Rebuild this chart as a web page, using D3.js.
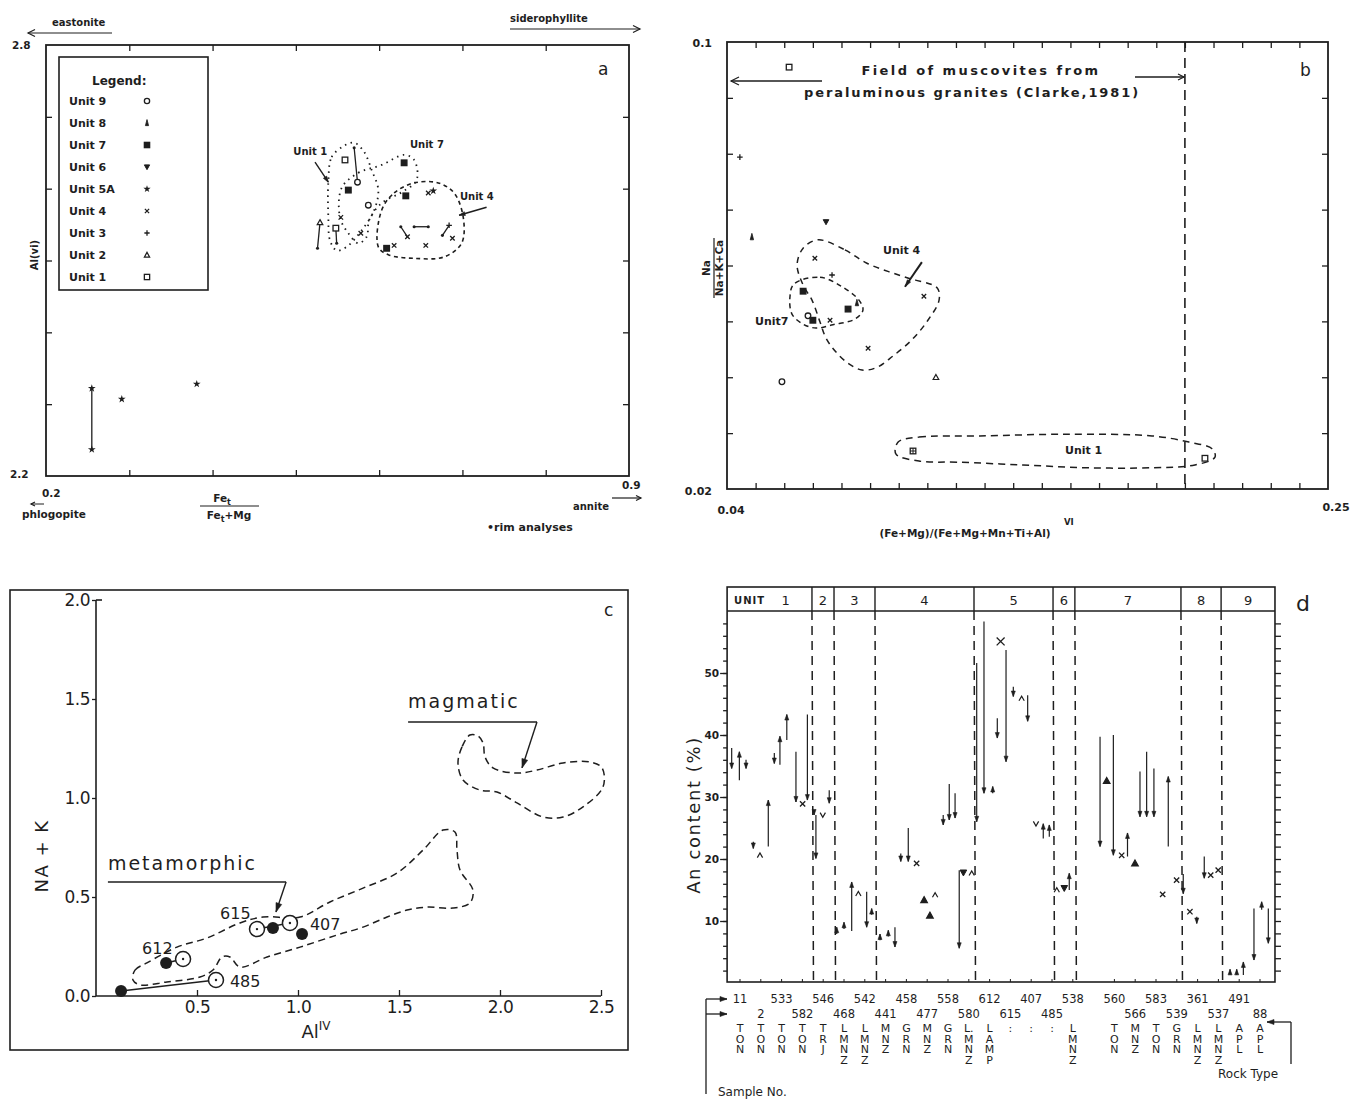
<!DOCTYPE html>
<html>
<head>
<meta charset="utf-8">
<title>Mica, muscovite and plagioclase compositions</title>
<script src="https://cdn.jsdelivr.net/npm/d3@7"></script>
<style>
  body { margin: 0; background: #fff; }
  text { font-family: "DejaVu Sans", "Liberation Sans", sans-serif; fill: #1e1e1e; }
</style>
</head>
<body>
<div id="fig"></div>
<script>
var ink = '#1e1e1e'

// ---- a: Al(vi) vs Fe/(Fe+Mg), biotite ----
var aLegendUnits = ['Unit 9', 'Unit 8', 'Unit 7', 'Unit 6', 'Unit 5A', 'Unit 4', 'Unit 3', 'Unit 2', 'Unit 1']
var aLegendSymbols = ['circle', 'tri8', 'sqFill', 'triDown', 'star', 'x', 'plus', 'triOpen', 'square']
var aXTicks = [0.3, 0.4, 0.5, 0.6, 0.7, 0.8]
var aYTicks = [2.3, 2.4, 2.5, 2.6, 2.7]
// [Fe/(Fe+Mg), Al(vi), symbol]
var aPoints = [
  [0.255, 2.322, 'star'], [0.255, 2.237, 'star'], [0.291, 2.307, 'star'], [0.381, 2.328, 'star'],
  [0.559, 2.640, 'square'], [0.570, 2.657, 'dot'], [0.574, 2.609, 'circle'],
  [0.563, 2.598, 'sqFill'], [0.630, 2.636, 'sqFill'], [0.587, 2.577, 'circle'], [0.632, 2.590, 'sqFill'],
  [0.659, 2.594, 'x'], [0.665, 2.597, 'star'],
  [0.529, 2.553, 'triOpen'], [0.526, 2.517, 'dot'],
  [0.548, 2.545, 'square'], [0.549, 2.524, 'dot'],
  [0.554, 2.560, 'x'], [0.578, 2.538, 'x'],
  [0.609, 2.517, 'sqFill'], [0.618, 2.521, 'x'],
  [0.626, 2.547, 'dot'], [0.634, 2.533, 'x'],
  [0.642, 2.547, 'dot'], [0.659, 2.547, 'dot'],
  [0.684, 2.549, 'plus'], [0.676, 2.535, 'dot'],
  [0.688, 2.531, 'x'], [0.656, 2.521, 'x']
]
// core-rim tie lines [x1, y1, x2, y2]
var aTies = [
  [0.255, 2.322, 0.255, 2.237], [0.570, 2.657, 0.574, 2.609], [0.529, 2.553, 0.526, 2.517],
  [0.548, 2.545, 0.549, 2.524], [0.626, 2.547, 0.634, 2.533], [0.642, 2.547, 0.659, 2.547],
  [0.684, 2.549, 0.676, 2.535]
]
var aUnit1Field = [[0.539, 2.609], [0.543, 2.644], [0.557, 2.659], [0.570, 2.664], [0.582, 2.651], [0.591, 2.626],
  [0.599, 2.598], [0.594, 2.570], [0.579, 2.542], [0.561, 2.519], [0.549, 2.514], [0.541, 2.528], [0.539, 2.560]]
var aUnit7Field = [[0.555, 2.601], [0.575, 2.622], [0.603, 2.633], [0.630, 2.647], [0.642, 2.640], [0.645, 2.612],
  [0.627, 2.595], [0.603, 2.580], [0.588, 2.556], [0.585, 2.533], [0.575, 2.524], [0.563, 2.538], [0.553, 2.560]]
var aUnit4Field = [[0.603, 2.570], [0.618, 2.594], [0.642, 2.608], [0.671, 2.608], [0.690, 2.594], [0.701, 2.560],
  [0.699, 2.524], [0.678, 2.505], [0.642, 2.503], [0.611, 2.508], [0.599, 2.519]]

// ---- b: Na/(Na+K+Ca) vs (Fe+Mg)/(Fe+Mg+Mn+Ti+Al)VI, muscovite ----
var bPoints = [
  [0.0617, 0.0955, 'square'], [0.0445, 0.0794, 'plus'], [0.0487, 0.0651, 'tri8'], [0.0746, 0.0678, 'triDown'],
  [0.0707, 0.0613, 'x'], [0.0767, 0.0583, 'plus'], [0.0666, 0.0554, 'sqFill'], [0.0683, 0.0510, 'circle'],
  [0.0700, 0.0502, 'sqFill'], [0.0760, 0.0502, 'x'], [0.0823, 0.0522, 'sqFill'], [0.0854, 0.0533, 'tri8'],
  [0.1088, 0.0545, 'x'], [0.0893, 0.0452, 'x'], [0.0592, 0.0392, 'circle'], [0.1130, 0.0400, 'triOpen'],
  [0.1050, 0.0268, 'sqCross'], [0.2070, 0.0255, 'square']
]
var bClarkeLimit = 0.2
var bUnit4Field = [[0.0718, 0.0646], [0.0812, 0.0628], [0.0889, 0.0604], [0.1029, 0.0578], [0.1134, 0.0560],
  [0.1141, 0.0538], [0.1102, 0.0502], [0.1046, 0.0467], [0.0980, 0.0438], [0.0921, 0.0417], [0.0872, 0.0413],
  [0.0826, 0.0424], [0.0781, 0.0445], [0.0746, 0.0470], [0.0725, 0.0499], [0.0697, 0.0538], [0.0666, 0.0565],
  [0.0645, 0.0601], [0.0666, 0.0631]]
var bUnit7Field = [[0.0634, 0.0567], [0.0725, 0.0579], [0.0802, 0.0562], [0.0861, 0.0538], [0.0875, 0.0520],
  [0.0847, 0.0504], [0.0770, 0.0494], [0.0711, 0.0488], [0.0666, 0.0495], [0.0627, 0.0513], [0.0620, 0.0544]]
var bUnit1Field = [[0.0998, 0.0284], [0.1071, 0.0293], [0.1284, 0.0295], [0.1584, 0.0298], [0.1885, 0.0295],
  [0.2014, 0.0284], [0.2095, 0.0272], [0.2105, 0.0257], [0.2035, 0.0243], [0.1885, 0.0238], [0.1658, 0.0238],
  [0.1434, 0.0243], [0.1207, 0.0248], [0.1071, 0.0250], [0.0990, 0.0263]]

// ---- c: Na+K vs Al(IV) ----
var cXTicks = [0.5, 1.0, 1.5, 2.0, 2.5]
var cYTicks = [0.0, 0.5, 1.0, 1.5, 2.0]
var cOpen = [[0.594, 0.081], [0.431, 0.187], [0.797, 0.338], [0.960, 0.369]]
var cFilled = [[0.124, 0.025], [0.347, 0.167], [0.876, 0.343], [1.020, 0.313]]
var cTies = [[0.124, 0.025, 0.594, 0.081], [0.347, 0.167, 0.431, 0.187], [0.797, 0.338, 0.960, 0.369]]
var cSampleLabels = [['612', 0.228, 0.242], ['485', 0.663, 0.076], ['615', 0.614, 0.419], ['407', 1.059, 0.364]]
var cMetamorphic = [[0.183, 0.081], [0.193, 0.131], [0.252, 0.167], [0.401, 0.247], [0.550, 0.293], [0.713, 0.369],
  [0.827, 0.399], [1.010, 0.399], [1.158, 0.475], [1.322, 0.545], [1.490, 0.621], [1.619, 0.737], [1.718, 0.838],
  [1.777, 0.828], [1.787, 0.737], [1.802, 0.636], [1.866, 0.535], [1.851, 0.470], [1.767, 0.444], [1.639, 0.449],
  [1.540, 0.434], [1.441, 0.399], [1.322, 0.348], [1.193, 0.308], [1.010, 0.247], [0.847, 0.197], [0.713, 0.146],
  [0.663, 0.197], [0.624, 0.197], [0.579, 0.131], [0.515, 0.096], [0.351, 0.071], [0.218, 0.056]]
var cMagmatic = [[1.851, 1.318], [1.812, 1.258], [1.792, 1.177], [1.817, 1.091], [1.901, 1.040], [1.985, 1.030],
  [2.084, 0.975], [2.213, 0.904], [2.312, 0.904], [2.411, 0.955], [2.510, 1.056], [2.505, 1.152], [2.446, 1.182],
  [2.312, 1.177], [2.183, 1.141], [2.084, 1.126], [1.965, 1.152], [1.926, 1.207], [1.916, 1.278], [1.891, 1.313]]

// ---- d: plagioclase An content core -> rim ----
var dYLabels = [10, 20, 30, 40, 50]
var dSamples = ['11', '2', '533', '582', '546', '468', '542', '441', '458', '477', '558', '580', '612', '615', '407',
  '485', '538', '', '560', '566', '583', '539', '361', '537', '491', '88']
var dRocks = ['TON', 'TON', 'TON', 'TON', 'TRJ', 'LMNZ', 'LMNZ', 'MNZ', 'GRN', 'MNZ', 'GRN', 'L.MNZ', 'LAMP', ':', ':',
  ':', 'LMNZ', '', 'TON', 'MNZ', 'TON', 'GRN', 'LMNZ', 'LMNZ', 'APL', 'APL']
var dUnits = ['1', '2', '3', '4', '5', '6', '7', '8', '9']
var dUnitBounds = [-0.62, 3.46, 4.52, 6.49, 11.25, 15.05, 16.1, 21.2, 23.13, 25.72]
// arrow position (sample slot), core An, rim An
var dArrowSlot = [-0.40, -0.03, 0.29, 0.64, 1.36, 1.65, 1.92, 2.25, 2.69, 3.24, 3.56, 3.65, 4.29, 4.65, 5.00, 5.37,
  6.09, 6.33, 6.73, 7.13, 7.45, 7.73, 8.09, 9.77, 10.06, 10.34, 10.54, 11.38, 11.73, 12.15, 12.37, 12.79, 13.14,
  13.83, 14.58, 14.87, 15.83, 17.31, 17.95, 18.63, 19.23, 19.55, 19.90, 20.59, 21.31, 21.96, 22.32, 23.56, 23.88,
  24.20, 24.71, 25.08, 25.40]
var dArrowFrom = [37.9, 32.7, 36.0, 22.8, 22.0, 37.1, 35.2, 39.2, 37.3, 43.3, 27.9, 27.1, 31.1, 7.9, 8.7, 8.4,
  14.7, 11.0, 6.9, 7.5, 9.0, 20.9, 25.0, 27.1, 32.1, 30.6, 18.2, 51.6, 58.3, 30.6, 42.7, 53.7, 47.8,
  46.4, 23.3, 23.6, 15.0, 39.7, 40.0, 20.4, 34.1, 37.3, 34.6, 22.0, 17.6, 10.7, 20.4, 1.3, 1.3,
  1.3, 12.0, 11.8, 12.0]
var dArrowTo = [34.6, 37.3, 34.6, 21.7, 29.5, 35.4, 39.8, 43.3, 29.2, 29.5, 27.1, 20.1, 29.0, 9.0, 9.8, 16.3,
  9.0, 12.0, 7.9, 8.5, 5.8, 19.6, 19.6, 25.5, 26.3, 26.6, 5.6, 26.0, 30.6, 31.7, 39.5, 35.7, 46.2,
  42.2, 25.7, 25.5, 17.7, 22.0, 20.6, 24.2, 26.8, 26.8, 26.8, 33.3, 14.4, 9.6, 16.9, 2.2, 2.2,
  3.4, 3.7, 13.1, 6.4]
var dSymSlot = [0.96, 3.01, 3.98, 5.69, 8.49, 8.85, 9.13, 9.38, 10.74, 11.14, 12.53, 13.54, 14.23, 15.23, 15.59,
  17.63, 18.35, 18.99, 20.32, 20.99, 21.63, 22.63, 22.99]
var dSymValue = [20.6, 28.9, 27.1, 14.4, 19.3, 13.4, 10.9, 14.2, 17.8, 17.7, 55.1, 45.9, 25.7, 15.0, 15.3,
  32.6, 20.6, 19.3, 14.3, 16.6, 11.5, 17.4, 18.2]
var dSymType = ['caret', 'x', 'vee', 'caret', 'x', 'triFill', 'triFill', 'caret', 'triDown', 'caret', 'x', 'caret',
  'vee', 'caret', 'triDown', 'triFill', 'x', 'triFill', 'x', 'x', 'x', 'x', 'x']

// ---------------- helpers ----------------
function seg(g, x1, y1, x2, y2, w, dash) {
  var l = g.append('line').attr('x1', x1).attr('y1', y1).attr('x2', x2).attr('y2', y2)
    .attr('stroke', ink).attr('stroke-width', w || 1.3)
  if (dash) l.attr('stroke-dasharray', dash)
  return l
}

function head(g, x1, y1, x2, y2, len, wid, open) {
  var a = Math.atan2(y2 - y1, x2 - x1)
  var bx = x2 - len * Math.cos(a), by = y2 - len * Math.sin(a)
  var px = -Math.sin(a) * wid / 2, py = Math.cos(a) * wid / 2
  var p = 'M' + (bx + px) + ',' + (by + py) + 'L' + x2 + ',' + y2 + 'L' + (bx - px) + ',' + (by - py)
  g.append('path').attr('d', open ? p : p + 'Z')
    .attr('fill', open ? 'none' : ink).attr('stroke', ink).attr('stroke-width', open ? 1.2 : 0.6)
}

function arrow(g, x1, y1, x2, y2, w, len, wid, open) {
  seg(g, x1, y1, x2, y2, w)
  head(g, x1, y1, x2, y2, len || 7, wid || 5, open)
}

function sym(g, type, cx, cy, k) {
  k = k || 1
  var s = 3.3 * k
  if (type == 'circle') {
    g.append('circle').attr('cx', cx).attr('cy', cy).attr('r', s).attr('fill', '#fff')
      .attr('stroke', ink).attr('stroke-width', 1.3)
  } else if (type == 'dot') {
    g.append('circle').attr('cx', cx).attr('cy', cy).attr('r', 1.8 * k).attr('fill', ink)
  } else if (type == 'square' || type == 'sqFill' || type == 'sqCross') {
    g.append('rect').attr('x', cx - s).attr('y', cy - s).attr('width', 2 * s).attr('height', 2 * s)
      .attr('fill', type == 'sqFill' ? ink : '#fff').attr('stroke', ink).attr('stroke-width', 1.3)
    if (type == 'sqCross') {
      g.append('path').attr('d', 'M' + (cx - s) + ',' + cy + 'H' + (cx + s) + 'M' + cx + ',' + (cy - s) + 'V' + (cy + s))
        .attr('stroke', ink).attr('stroke-width', 1)
    }
  } else if (type == 'triOpen' || type == 'triFill') {
    g.append('path').attr('d', 'M' + cx + ',' + (cy - s) + 'L' + (cx + s) + ',' + (cy + s * 0.8) + 'L' + (cx - s) + ',' + (cy + s * 0.8) + 'Z')
      .attr('fill', type == 'triFill' ? ink : '#fff').attr('stroke', ink).attr('stroke-width', 1.2)
  } else if (type == 'triDown') {
    g.append('path').attr('d', 'M' + (cx - s) + ',' + (cy - s * 0.8) + 'L' + (cx + s) + ',' + (cy - s * 0.8) + 'L' + cx + ',' + (cy + s) + 'Z')
      .attr('fill', ink).attr('stroke', ink).attr('stroke-width', 1)
  } else if (type == 'tri8') {
    g.append('path').attr('d', 'M' + cx + ',' + (cy - s * 1.3) + 'L' + (cx + s * 0.6) + ',' + (cy + s) + 'L' + (cx - s * 0.6) + ',' + (cy + s) + 'Z')
      .attr('fill', ink).attr('stroke', ink).attr('stroke-width', 0.8)
  } else if (type == 'star') {
    g.append('path').attr('d', d3.symbol().type(d3.symbolStar).size(26 * k * k)())
      .attr('transform', 'translate(' + cx + ',' + cy + ')').attr('fill', ink)
  } else if (type == 'x') {
    var t = s * 0.8
    g.append('path').attr('d', 'M' + (cx - t) + ',' + (cy - t) + 'L' + (cx + t) + ',' + (cy + t) + 'M' + (cx + t) + ',' + (cy - t) + 'L' + (cx - t) + ',' + (cy + t))
      .attr('stroke', ink).attr('stroke-width', 1.3)
  } else if (type == 'plus') {
    g.append('path').attr('d', 'M' + (cx - s) + ',' + cy + 'H' + (cx + s) + 'M' + cx + ',' + (cy - s) + 'V' + (cy + s))
      .attr('stroke', ink).attr('stroke-width', 1.3)
  } else if (type == 'caret' || type == 'vee') {
    var d = type == 'caret' ? 1 : -1
    g.append('path').attr('d', 'M' + (cx - s * 0.8) + ',' + (cy + d * s * 0.7) + 'L' + cx + ',' + (cy - d * s * 0.7) + 'L' + (cx + s * 0.8) + ',' + (cy + d * s * 0.7))
      .attr('fill', 'none').attr('stroke', ink).attr('stroke-width', 1.2)
  }
}

function txt(g, s, x, y, size, opts) {
  opts = opts || {}
  var t = g.append('text').attr('x', x).attr('y', y).attr('font-size', size).text(s)
  if (opts.anchor) t.attr('text-anchor', opts.anchor)
  if (opts.bold) t.attr('font-weight', 'bold')
  if (opts.spacing) t.attr('letter-spacing', opts.spacing)
  if (opts.family) t.attr('font-family', opts.family)
  return t
}

function ticks(g, axis, tx, ty) {
  var a = g.append('g').attr('transform', 'translate(' + tx + ',' + ty + ')').call(axis)
  a.select('.domain').remove()
  a.selectAll('line').attr('stroke', ink).attr('stroke-width', 1.3)
  return a
}

function field(g, pts, sx, sy, dash, w) {
  var ln = d3.line().x(function(d) { return sx(d[0]) }).y(function(d) { return sy(d[1]) }).curve(d3.curveCatmullRomClosed)
  g.append('path').attr('d', ln(pts)).attr('fill', 'none').attr('stroke', ink)
    .attr('stroke-width', w || 1.5).attr('stroke-dasharray', dash)
}

var svg = d3.select('#fig').append('svg').attr('width', 1351).attr('height', 1102)
svg.append('rect').attr('width', 1351).attr('height', 1102).attr('fill', '#fff')

// ---------------- panel a ----------------
function drawPanelA() {
  var g = svg.append('g')
  var x = d3.scaleLinear().domain([0.2, 0.9]).range([46, 629])
  var y = d3.scaleLinear().domain([2.2, 2.8]).range([476, 45])
  var f = { bold: true }

  g.append('rect').attr('x', x(0.2)).attr('y', y(2.8)).attr('width', x(0.9) - x(0.2)).attr('height', y(2.2) - y(2.8))
    .attr('fill', 'none').attr('stroke', ink).attr('stroke-width', 1.8)
  ticks(g, d3.axisBottom(x).tickValues(aXTicks).tickSize(-6).tickFormat(''), 0, y(2.2))
  ticks(g, d3.axisTop(x).tickValues(aXTicks).tickSize(-6).tickFormat(''), 0, y(2.8))
  ticks(g, d3.axisLeft(y).tickValues(aYTicks).tickSize(-6).tickFormat(''), x(0.2), 0)
  ticks(g, d3.axisRight(y).tickValues(aYTicks).tickSize(-6).tickFormat(''), x(0.9), 0)

  txt(g, '2.8', 12, y(2.8) + 4, 10.5, f)
  txt(g, '2.2', 10, y(2.2) + 2, 10.5, f)
  txt(g, '0.2', 42, 497, 10.5, f)
  txt(g, '0.9', 622, 489, 10.5, f)
  txt(g, 'eastonite', 52, 26, 10, f)
  arrow(g, 112, 33, 28, 33, 1.2, 7, 7, true)
  txt(g, 'siderophyllite', 510, 22, 10, f)
  arrow(g, 510, 29, 640, 29, 1.2, 7, 7, true)
  txt(g, 'phlogopite', 22, 518, 10.5, f)
  arrow(g, 44, 504, 31, 504, 1, 4, 4, true)
  txt(g, 'annite', 573, 510, 10, f)
  arrow(g, 612, 498, 641, 498, 1.2, 5, 5, true)
  txt(g, '\u2022rim analyses', 487, 531, 11, f)
  txt(g, 'a', 598, 75, 17)

  // axis titles
  txt(g, 'Al(vi)', 0, 0, 10, f).attr('text-anchor', 'middle').attr('transform', 'translate(38,255) rotate(-90)')
  var num = txt(g, 'Fe', 222, 502, 10.5, f).attr('text-anchor', 'middle')
  num.append('tspan').attr('font-size', 8).attr('dy', 3).text('t')
  seg(g, 200, 506, 259, 506, 1.2)
  var den = txt(g, 'Fe', 229, 519, 10.5, f).attr('text-anchor', 'middle')
  den.append('tspan').attr('font-size', 8).attr('dy', 3).text('t')
  den.append('tspan').attr('dy', -3).text('+Mg')

  // legend
  g.append('rect').attr('x', 59).attr('y', 57).attr('width', 149).attr('height', 233)
    .attr('fill', '#fff').attr('stroke', ink).attr('stroke-width', 1.6)
  txt(g, 'Legend:', 92, 85, 12, f)
  aLegendUnits.forEach(function(u, i) {
    txt(g, u, 69, 105 + i * 22, 11, f)
    sym(g, aLegendSymbols[i], 147, 101 + i * 22, 0.8)
  })

  // fields
  field(g, aUnit1Field, x, y, '1.5,4.5', 1.8)
  field(g, aUnit7Field, x, y, '1.5,4.5', 1.8)
  field(g, aUnit4Field, x, y, '4,3.5', 1.6)

  aTies.forEach(function(t) { seg(g, x(t[0]), y(t[1]), x(t[2]), y(t[3]), 1.3) })
  aPoints.forEach(function(p) { sym(g, p[2], x(p[0]), y(p[1]), 0.85) })

  txt(g, 'Unit 1', x(0.497), y(2.647), 10, f)
  arrow(g, x(0.523), y(2.637), x(0.539), y(2.609), 1.4, 6, 4)
  txt(g, 'Unit 7', x(0.637), y(2.657), 10, f)
  txt(g, 'Unit 4', x(0.697), y(2.584), 10, f)
  arrow(g, x(0.729), y(2.574), x(0.696), y(2.563), 1.6, 6, 4)
}

// ---------------- panel b ----------------
function drawPanelB() {
  var g = svg.append('g')
  var x = d3.scaleLinear().domain([0.04, 0.25]).range([727, 1328])
  var y = d3.scaleLinear().domain([0.02, 0.1]).range([489, 42])
  var f = { bold: true }
  var xt = x.ticks(21).filter(function(v) { return v > 0.0405 && v < 0.2495 })
  var yt = y.ticks(8).filter(function(v) { return v > 0.0205 && v < 0.0995 })

  g.append('rect').attr('x', x(0.04)).attr('y', y(0.1)).attr('width', x(0.25) - x(0.04)).attr('height', y(0.02) - y(0.1))
    .attr('fill', 'none').attr('stroke', ink).attr('stroke-width', 1.8)
  ticks(g, d3.axisBottom(x).tickValues(xt).tickSize(-6).tickFormat(''), 0, y(0.02))
  ticks(g, d3.axisTop(x).tickValues(xt).tickSize(-6).tickFormat(''), 0, y(0.1))
  ticks(g, d3.axisLeft(y).tickValues(yt).tickSize(-6).tickFormat(''), x(0.04), 0)
  ticks(g, d3.axisRight(y).tickValues(yt).tickSize(-6).tickFormat(''), x(0.25), 0)

  txt(g, '0.1', 712, y(0.1) + 5, 11, { bold: true, anchor: 'end' })
  txt(g, '0.02', 712, y(0.02) + 6, 11, { bold: true, anchor: 'end' })
  txt(g, '0.04', x(0.04) + 4, 514, 11, { bold: true, anchor: 'middle' })
  txt(g, '0.25', x(0.25) + 8, 511, 11, { bold: true, anchor: 'middle' })
  txt(g, 'b', 1300, 76, 17)

  // Clarke (1981) limit
  seg(g, x(bClarkeLimit), y(0.1), x(bClarkeLimit), y(0.02), 1.6, '10,6')
  txt(g, 'Field of muscovites from', 981, 75, 13, { anchor: 'middle', spacing: 2.4 }).attr('font-weight', 600)
  txt(g, 'peraluminous granites (Clarke,1981)', 972, 97, 13, { anchor: 'middle', spacing: 1.9 }).attr('font-weight', 600)
  arrow(g, 822, 81, 731, 81, 1.3, 8, 8, true)
  arrow(g, 1135, 77, 1184, 77, 1.3, 6, 6, true)

  // axis titles
  var yl = g.append('g').attr('transform', 'translate(714,268) rotate(-90)')
  txt(yl, 'Na', 0, -4, 10.5, { bold: true, anchor: 'middle' })
  seg(yl, -30, 0, 30, 0, 1.2)
  txt(yl, 'Na+K+Ca', 0, 9, 10.5, { bold: true, anchor: 'middle' })
  txt(g, '(Fe+Mg)/(Fe+Mg+Mn+Ti+Al)', 965, 537, 10.5, { bold: true, anchor: 'middle' })
  txt(g, 'VI', 1064, 525, 8.5, f)

  field(g, bUnit4Field, x, y, '6,5', 1.5)
  field(g, bUnit7Field, x, y, '5,4', 1.5)
  field(g, bUnit1Field, x, y, '7,5', 1.5)

  bPoints.forEach(function(p) { sym(g, p[2], x(p[0]), y(p[1]), 0.85) })

  txt(g, 'Unit 4', x(0.0945), y(0.0621), 11, f)
  arrow(g, x(0.1081), y(0.0606), x(0.1022), y(0.0562), 2, 7, 4)
  txt(g, 'Unit7', x(0.0498), y(0.0494), 11, f)
  txt(g, 'Unit 1', x(0.1581), y(0.0262), 11, f)
}

// ---------------- panel c ----------------
function drawPanelC() {
  var g = svg.append('g')
  var x = d3.scaleLinear().domain([0, 2.5]).range([96, 601])
  var y = d3.scaleLinear().domain([0, 2]).range([996, 600])
  var num = '"Liberation Sans", Arial, sans-serif'

  g.append('rect').attr('x', 10).attr('y', 590).attr('width', 618).attr('height', 460)
    .attr('fill', 'none').attr('stroke', ink).attr('stroke-width', 1.6)
  seg(g, x(0), y(0), x(2.5), y(0), 1.6)
  seg(g, x(0), y(0), x(0), y(2), 1.6)
  seg(g, x(0), y(2), x(0) + 6, y(2), 1.6)

  var ax = ticks(g, d3.axisBottom(x).tickValues(cXTicks).tickSize(-6).tickPadding(5).tickFormat(d3.format('.1f')), 0, y(0))
  ax.selectAll('text').attr('font-size', 17).attr('font-family', num).attr('fill', ink).attr('letter-spacing', -0.5)
  var ay = ticks(g, d3.axisLeft(y).tickValues(cYTicks).tickSize(4).tickPadding(2).tickFormat(d3.format('.1f')), x(0), 0)
  ay.selectAll('text').attr('font-size', 17).attr('font-family', num).attr('fill', ink).attr('letter-spacing', -0.5)

  txt(g, 'c', 604, 616, 17, { family: num })
  txt(g, 'NA + K', 0, 0, 18, { anchor: 'middle', family: num, spacing: 1.5 }).attr('transform', 'translate(48,856) rotate(-90)')
  var xl = txt(g, 'Al', 316, 1038, 18, { anchor: 'middle', family: num })
  xl.append('tspan').attr('font-size', 12).attr('dy', -8).text('IV')

  field(g, cMetamorphic, x, y, '7,4.5', 1.5)
  field(g, cMagmatic, x, y, '7,4.5', 1.5)

  cTies.forEach(function(t) { seg(g, x(t[0]), y(t[1]), x(t[2]), y(t[3]), 1.6) })
  cFilled.forEach(function(p) {
    g.append('circle').attr('cx', x(p[0])).attr('cy', y(p[1])).attr('r', 6).attr('fill', ink)
  })
  cOpen.forEach(function(p) {
    g.append('circle').attr('cx', x(p[0])).attr('cy', y(p[1])).attr('r', 7.5).attr('fill', '#fff')
      .attr('stroke', ink).attr('stroke-width', 1.5)
    g.append('circle').attr('cx', x(p[0])).attr('cy', y(p[1])).attr('r', 1.2).attr('fill', ink)
  })
  cSampleLabels.forEach(function(l) { txt(g, l[0], x(l[1]), y(l[2]) + 6, 16, { family: num }) })

  txt(g, 'metamorphic', x(0.059), y(0.636), 19, { family: num, spacing: 2 })
  seg(g, x(0.059), y(0.576), x(0.941), y(0.576), 1.4)
  arrow(g, x(0.941), y(0.576), x(0.891), y(0.424), 1.4, 9, 6)
  txt(g, 'magmatic', x(1.545), y(1.455), 19, { family: num, spacing: 2 })
  seg(g, x(1.545), y(1.384), x(2.183), y(1.384), 1.4)
  arrow(g, x(2.183), y(1.384), x(2.109), y(1.152), 1.4, 9, 6)
}

// ---------------- panel d ----------------
function drawPanelD() {
  var g = svg.append('g')
  var x = d3.scaleLinear().domain([0, dSamples.length - 1]).range([740, 1260])
  var y = d3.scaleLinear().domain([0, 60]).range([983, 611])
  var left = x(dUnitBounds[0]), right = x(dUnitBounds[dUnitBounds.length - 1])
  var top = 587, bottom = 982

  // frame + unit header
  g.append('rect').attr('x', left).attr('y', top).attr('width', right - left).attr('height', bottom - top)
    .attr('fill', 'none').attr('stroke', ink).attr('stroke-width', 1.6)
  seg(g, left, y(60), right, y(60), 1.6)
  dUnits.forEach(function(u, i) {
    var a = x(dUnitBounds[i]), b = x(dUnitBounds[i + 1])
    if (i > 0) {
      seg(g, a, top, a, y(60), 1.4)
      seg(g, a, y(60), a + 1.5, bottom, 1.5, '9,6')
    }
    if (i == 0) {
      txt(g, 'UNIT', a + 7, 604, 10, { bold: true, spacing: 1 })
      txt(g, u, (a + b) / 2 + 12, 605, 13)
    } else {
      txt(g, u, (a + b) / 2, 605, 13, { anchor: 'middle' })
    }
  })
  txt(g, 'd', 1296, 611, 22)

  // y axes
  var minor = d3.range(2, 60, 2)
  ticks(g, d3.axisLeft(y).tickValues(minor).tickSize(4).tickFormat(''), left, 0)
  var ay = ticks(g, d3.axisLeft(y).tickValues(dYLabels).tickSize(7).tickPadding(1).tickFormat(d3.format('d')), left, 0)
  ay.selectAll('text').attr('font-size', 10.5).attr('font-weight', 'bold').attr('fill', ink)
  ticks(g, d3.axisRight(y).tickValues(minor).tickSize(6).tickFormat(''), right, 0)
  txt(g, 'An  content (%)', 0, 0, 18, { anchor: 'middle', spacing: 1.6 }).attr('transform', 'translate(700,815) rotate(-90)')

  // sample / rock-type axis
  var row = 0
  dSamples.forEach(function(s, i) {
    if (s == '') { row = 0; return }
    var cx = x(i)
    seg(g, cx, bottom, cx, bottom - 3, 1)
    txt(g, s, cx, row == 0 ? 1003 : 1018, 11.5, { anchor: 'middle' })
    row = 1 - row
    var letters = dRocks[i].replace('L.', 'l').split('')
    letters.forEach(function(c, k) {
      txt(g, c == 'l' ? 'L.' : c, cx, 1032 + k * 10.5, 11, { anchor: 'middle' })
    })
  })
  seg(g, 706, 999, 706, 1094, 1.3)
  arrow(g, 706, 999, 727, 999, 1.3, 7, 5)
  arrow(g, 706, 1014, 727, 1014, 1.3, 7, 5)
  txt(g, 'Sample No.', 718, 1096, 12)
  seg(g, 1291, 1064, 1291, 1022, 1.3)
  arrow(g, 1291, 1022, 1267, 1022, 1.3, 7, 5)
  txt(g, 'Rock Type', 1218, 1078, 12)

  // core -> rim arrows
  dArrowSlot.forEach(function(s, i) {
    var cx = x(s), y1 = y(dArrowFrom[i]), y2 = y(dArrowTo[i])
    seg(g, cx, y1, cx, y2, 1.2)
    head(g, cx, y1, cx, y2, 5.5, 4)
  })
  dSymSlot.forEach(function(s, i) {
    var k = dSymValue[i] > 50 ? 1.5 : 1
    sym(g, dSymType[i], x(s), y(dSymValue[i]), k)
  })
}

drawPanelA()
drawPanelB()
drawPanelC()
drawPanelD()
</script>
</body>
</html>
